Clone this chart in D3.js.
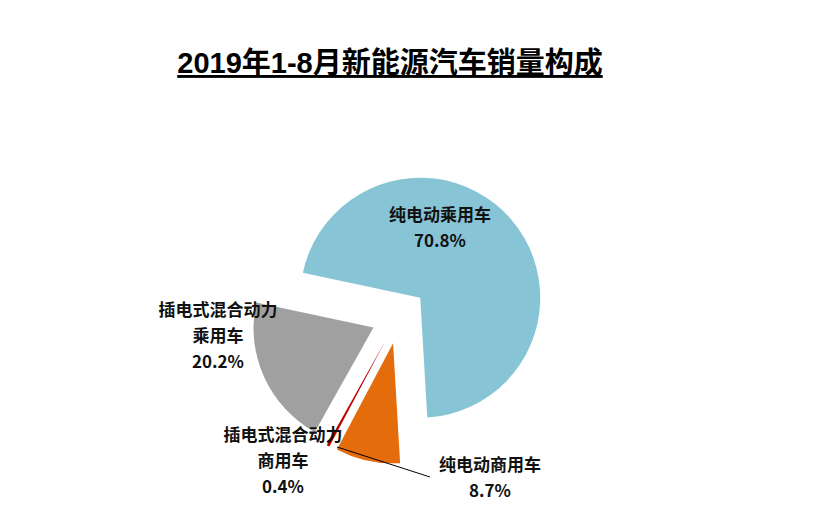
<!DOCTYPE html>
<html><head><meta charset="utf-8">
<script src="https://cdn.jsdelivr.net/npm/d3@7"></script>
<style>body{margin:0;background:#fff}</style></head>
<body><svg id="c" width="824" height="532"></svg>
<script>
const categories = ["纯电动乘用车", "纯电动商用车", "插电式混合动力商用车", "插电式混合动力乘用车"];
const values = [70.8, 8.7, 0.4, 20.2];
const labelLines = [["纯电动乘用车", "70.8%"], ["纯电动商用车", "8.7%"], ["插电式混合动力", "商用车", "0.4%"], ["插电式混合动力", "乘用车", "20.2%"]];
const colors = ["#86C4D6", "#E46C0A", "#C00000", "#A0A0A0"];

const svg = d3.select("#c");
const cx = 399, cy = 316, r = 120, explode = 28;
const deg = Math.PI / 180;

svg.append("text").attr("x", 390).attr("y", 73).attr("text-anchor", "middle")
  .attr("font-family", "Arial, 'Noto Sans CJK SC', sans-serif").attr("font-weight", "bold")
  .attr("font-size", 29).attr("text-decoration", "underline").text("2019年1-8月新能源汽车销量构成");

const pie = d3.pie().sort(null).startAngle(-78 * deg).endAngle(282 * deg);
const arcs = pie(values);
const arc = d3.arc().innerRadius(0).outerRadius(r);

const g = svg.append("g").attr("transform", `translate(${cx},${cy})`);
g.selectAll("path").data(arcs).enter().append("path")
  .attr("d", arc)
  .attr("fill", (d, i) => colors[i])
  .attr("transform", d => {
    const a = (d.startAngle + d.endAngle) / 2;
    return `translate(${Math.sin(a) * explode},${-Math.cos(a) * explode})`;
  });

// leader line for orange slice
svg.append("line").attr("x1", 337).attr("y1", 447).attr("x2", 430).attr("y2", 477)
  .attr("stroke", "#000").attr("stroke-width", 1);

const labelPos = [[440, 221], [490, 471], [283, 441], [218, 316]];
labelLines.forEach((lines, i) => {
  const t = svg.append("text").attr("text-anchor", "middle")
    .attr("font-family", "'Noto Sans CJK SC', sans-serif").attr("font-weight", "bold")
    .attr("font-size", 17).attr("fill", "#111");
  lines.forEach((s, j) => t.append("tspan").attr("x", labelPos[i][0])
    .attr("y", labelPos[i][1] + j * 26).text(s));
});
</script></body></html>
